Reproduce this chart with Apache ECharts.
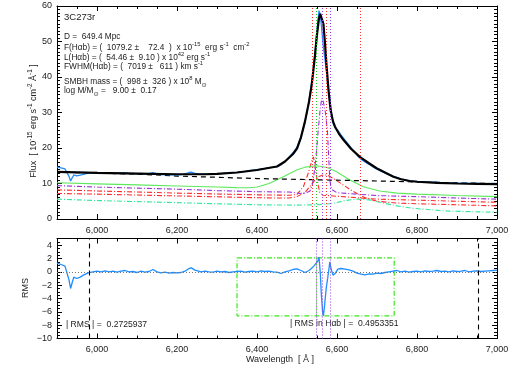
<!DOCTYPE html>
<html><head><meta charset="utf-8">
<script src="https://cdn.jsdelivr.net/npm/echarts@6/dist/echarts.min.js"></script>
<style>html,body{margin:0;padding:0;background:#fff}#c{width:520px;height:368px}</style>
</head><body><div id="c"></div>
<script>
// ---------- data ----------
const xMajorTicks = [6000, 6200, 6400, 6600, 6800, 7000];

// observed spectrum and residuals (same wavelength grid)
const waveObs = [5900,5910,5920,5925,5930,5934,5938,5942,5949,5958,5966,5978,5990,
  6000,6010,6020,6030,6040,6050,6060,6070,6080,6090,
  6100,6110,6120,6130,6140,6150,6160,6170,6180,6190,
  6200,6210,6220,6230,6236,6245,6260,6270,6280,6290,
  6300,6310,6320,6330,6340,6350,6360,6370,6380,6390,
  6400,6410,6420,6430,6440,6450,6460,6470,6480,6490,
  6500,6510,6520,6530,6538,6544,6548,6552,6555,6558,6561,6564,6566,6569,6573,6577,6580,6582,6585,6590,6596,
  6602,6610,6620,6630,6640,6650,6660,6670,6680,6690,
  6700,6710,6720,6730,6740,6750,6760,6770,6780,6790,
  6800,6810,6820,6830,6840,6850,6860,6870,6880,6890,
  6900,6910,6920,6930,6940,6950,6960,6970,6980,6990,7000];
const obsFlux = [14.6,14.4,14.1,13.95,12.0,10.7,11.6,12.4,12.15,12.35,12.6,12.9,13.03,
  13.1,12.98,13.09,12.91,12.98,12.85,12.98,13.06,12.84,12.87,
  12.7,12.88,12.71,12.79,13.07,12.7,12.53,12.61,12.44,12.52,
  12.45,12.5,12.7,13.1,13.2,12.85,12.6,12.7,12.65,12.65,
  12.8,12.78,12.91,12.87,13.06,13.15,13.34,13.33,13.59,13.78,
  13.8,14.15,14.25,14.5,14.6,14.75,15.25,16.2,17.4,18.65,
  20.25,23.2,27.4,33.2,39.6,46.0,50.8,55.4,58.7,57.6,54.5,50.7,48.4,45.9,42.1,38.0,35.4,34.3,30.7,27.0,25.6,
  25.0,23.7,22.2,20.8,19.4,18.0,16.85,16.05,15.4,14.65,
  14.04,13.45,13.0,12.5,12.05,11.75,11.2,11.07,10.7,10.65,
  10.6,10.44,10.53,10.37,10.36,10.4,10.21,10.22,10.08,10.19,
  10.05,10.08,10.16,9.94,10.02,10.05,9.93,9.96,9.99,10.02,10.05];
const rmsValues = [1.3,1.1,0.85,0.7,-1.2,-2.5,-1.6,-0.8,-1.0,-0.8,-0.5,-0.15,0.0,
  0.1,0.0,0.15,0.0,0.1,-0.05,0.1,0.2,0.0,0.05,
  -0.1,0.1,-0.05,0.05,0.35,0.0,-0.15,-0.05,-0.2,-0.1,
  -0.15,-0.1,0.1,0.5,0.6,0.25,0.0,0.1,0.0,-0.05,
  0.1,0.0,0.05,-0.1,0.0,0.05,0.1,-0.05,0.05,0.1,
  0.0,0.15,0.05,0.1,0.0,-0.05,-0.25,0.0,0.15,0.35,
  0.45,0.2,-0.1,0.2,0.6,1.0,1.2,1.6,2.2,0.0,-3.5,-6.0,-6.6,-5.0,-2.5,-0.8,0.5,1.5,0.5,-0.5,-0.2,
  0.4,0.5,0.4,0.3,0.1,-0.2,-0.35,-0.45,-0.3,-0.35,
  -0.2,-0.25,-0.1,0.0,0.1,0.2,0.0,0.1,-0.05,0.05,
  0.1,0.0,0.15,0.05,0.1,0.2,0.05,0.1,0.0,0.15,
  0.05,0.1,0.2,0.0,0.1,0.15,0.05,0.1,0.15,0.2,0.25];

// fitted model (black)
const waveModel = [5900,6000,6100,6200,6270,6300,6350,6400,6450,6470,6490,6500,6510,6520,6530,6537,6545,6550,6555,6558,6560,6563,6566,6570,6574,6579,6584,6590,6595,6605,6616,6635,6657,6680,6699,6720,6741,6760,6782,6800,6850,6900,6950,7000];
const modelFlux = [13.3,13.0,12.8,12.6,12.6,12.7,13.1,13.8,14.8,16.2,18.3,19.8,23.0,27.5,33,38,46,52,56.5,57.8,58.3,57.5,55,49.5,43,36,30.7,27.5,26,24,22.3,19.8,17.5,15.7,14.3,13.1,11.9,11.2,10.7,10.5,10.2,10.0,9.9,9.8];

// continuum (black dashed)
const waveCont = [5900, 6100, 6200, 6400, 6700, 6800, 7000];
const contFlux = [13.2, 12.65, 12.1, 11.4, 10.7, 10.45, 9.95];

// components
const waveGreen = [5900,6000,6100,6200,6300,6350,6380,6400,6430,6466,6499,6520,6549,6575,6599,6632,6666,6707,6750,6800,6900,7000];
const greenFlux = [10.2,9.9,9.6,9.3,9.0,8.85,8.8,9.0,10.0,11.9,13.8,14.6,15.0,14.5,13.3,11.0,9.1,7.9,7.3,7.0,6.6,6.3];

const wavePurple = [5900,6000,6100,6200,6300,6400,6480,6507,6520,6532,6538,6543,6548,6553,6558,6562,6566,6571,6576,6579,6582,6586,6600,6700,6800,6900,7000];
const purpleFlux = [9.4,9.0,8.7,8.4,8.0,7.7,7.6,7.2,7.3,7.8,9.5,13,18,25,31,34,33,30,25,18,11,8.4,7.4,6.6,6.3,5.9,5.6];

const waveRedA = [5900,6000,6100,6200,6300,6400,6480,6500,6516,6528,6536,6541,6545,6549,6553,6557,6565,6600,6700,6800,6900,7000];
const redAFlux = [8.2,7.9,7.6,7.3,7.05,6.8,6.7,6.9,9.1,12.9,16,17.5,15,11.9,9.5,7.5,6.7,6.4,5.6,5.3,5.0,4.7];

const waveRedB = [5900,6000,6100,6200,6300,6400,6450,6480,6500,6520,6535,6545,6555,6565,6575,6590,6610,6630,6650,6670,6700,6750,6800,6900,7000];
const redBFlux = [7.2,7.0,6.75,6.5,6.25,6.0,5.9,5.9,6.3,7.5,9.5,11.0,12.0,12.4,12.4,11.5,10.0,8.5,7.2,6.0,5.0,4.5,4.3,4.0,3.7];

const waveCyan = [5900,6000,6100,6200,6300,6400,6500,6550,6590,6620,6650,6680,6707,6750,6791,6874,7000];
const cyanFlux = [5.6,5.2,4.9,4.6,4.3,4.0,3.9,4.0,4.4,5.2,5.6,5.4,4.7,3.7,3.0,2.25,1.9];

// vertical marker lines
const topRedLines = [6539, 6572, 6658];
const topGreenLines = [6549];
const topPurpleLines = [6562.5, 6584];
const rmsPurpleLines = [6547.5, 6563, 6584];
const rmsBlackLines = [5980, 6953];
const rmsGreenLine = [6549];
const boxWave = [6350, 6743];
const boxLevels = [-6.6, 2.1];

// ---------- chart ----------
const FONT = '"Liberation Sans", "DejaVu Sans", sans-serif';
const TXT = '#222';
const pairs = (xs, ys) => xs.map((x, i) => [x, ys[i]]);

function xAx(grid, pos, major, labels) {
  if (major) return {type:'value', gridIndex:grid, position:pos, min:5900, max:7000,
    axisLine:{show:true, onZero:false, lineStyle:{color:'#000', width:1}},
    axisTick:{show:true, inside:true, length:5, customValues:xMajorTicks, lineStyle:{color:'#000'}},
    axisLabel:{show:labels, customValues:xMajorTicks, fontSize:9, color:TXT, margin:7, fontFamily:FONT},
    splitLine:{show:false}};
  return {type:'value', gridIndex:grid, position:pos, min:5900, max:7000, interval:50,
    axisLine:{show:false, onZero:false}, axisTick:{show:true, inside:true, length:3, lineStyle:{color:'#000'}},
    axisLabel:{show:false}, splitLine:{show:false}};
}
function yAx(grid, pos, labels, min, max, interval, minor) {
  return {type:'value', gridIndex:grid, position:pos, min, max, interval,
    axisLine:{show:true, onZero:false, lineStyle:{color:'#000', width:1}},
    axisTick:{show:true, inside:true, length:5, lineStyle:{color:'#000'}},
    minorTick:{show:true, splitNumber:minor, length:3, lineStyle:{color:'#000'}},
    axisLabel:{show:labels, fontSize:9, color:TXT, margin:5, fontFamily:FONT,
      formatter: v => (v > max - 1e-9 && max === 5) ? '' : String(v).replace('-', '\u2212')},
    splitLine:{show:false}};
}
const vMark = (vals, color, type, width) => vals.map(v => ({xAxis:v, lineStyle:{color, type, width:width || 1}}));
const markLineBase = data => ({silent:true, symbol:['none','none'], label:{show:false}, animation:false, data});
const dashDot = [5, 2, 1, 2];

function lineSeries(xs, ys, color, width, type, xi, yi, extra) {
  return Object.assign({type:'line', xAxisIndex:xi, yAxisIndex:yi, data:pairs(xs, ys), showSymbol:false, symbol:'none',
    silent:true, animation:false, lineStyle:{color, width, type}}, extra || {});
}

const rich = (fs) => ({
  n:{fontSize:fs, fontFamily:FONT, fill:TXT, lineHeight:fs+4},
  s:{fontSize:fs*0.7, fontFamily:FONT, fill:TXT, lineHeight:fs*0.7, verticalAlign:'top'},
  b:{fontSize:fs*0.75, fontFamily:FONT, fill:TXT, lineHeight:fs*0.75, verticalAlign:'bottom'}
});
function txt(x, y, text, fs, extra) {
  return Object.assign({type:'text', x, y, silent:true, style:{text, rich:rich(fs), fill:TXT, font:fs+'px '+FONT, verticalAlign:'middle', align:'left'}}, extra || {});
}

const AF = 8.3;
const option = {
  animation:false,
  backgroundColor:'#fff',
  grid:[{left:57, top:6, width:440, height:213}, {left:57, top:238.5, width:440, height:100}],
  xAxis:[xAx(0,'bottom',true,true), xAx(0,'top',true,false), xAx(0,'bottom',false,false), xAx(0,'top',false,false),
         xAx(1,'bottom',true,true), xAx(1,'top',true,false), xAx(1,'bottom',false,false), xAx(1,'top',false,false)],
  yAxis:[yAx(0,'left',true,0,60,10,10), yAx(0,'right',false,0,60,10,10),
         yAx(1,'left',true,-10,5,2,4), yAx(1,'right',false,-10,5,2,4)],
  series:[
    lineSeries(waveCyan, cyanFlux, '#2ee89c', 1.1, dashDot, 0, 0),
    lineSeries(waveRedB, redBFlux, '#ff2a2a', 1.1, dashDot, 0, 0),
    lineSeries(waveRedA, redAFlux, '#ff2a2a', 1.1, dashDot, 0, 0,
      {markLine:markLineBase(vMark(topRedLines, '#ff3030', [1,2]))}),
    lineSeries(wavePurple, purpleFlux, '#9a30d8', 1.1, dashDot, 0, 0,
      {markLine:markLineBase(vMark(topPurpleLines, '#9a40e0', [1,2]))}),
    lineSeries(waveGreen, greenFlux, '#5ee85e', 1.1, 'solid', 0, 0,
      {markLine:markLineBase(vMark(topGreenLines, '#22cc22', [1,2]))}),
    lineSeries(waveCont, contFlux, '#000', 1.2, [5,4], 0, 0),
    lineSeries(waveObs, obsFlux, '#1f8cff', 1.3, 'solid', 0, 0),
    lineSeries(waveModel, modelFlux, '#000', 2.2, 'solid', 0, 0),
    // residual panel
    lineSeries([boxWave[0], boxWave[1], boxWave[1], boxWave[0], boxWave[0]],
               [boxLevels[1], boxLevels[1], boxLevels[0], boxLevels[0], boxLevels[1]], '#3be81e', 1.2, dashDot, 4, 2,
      {markLine:markLineBase(vMark(rmsBlackLines, '#000', [5,4], 1.1).concat(vMark(rmsPurpleLines, '#9a40e0', [1,2])))}),
    lineSeries([rmsGreenLine[0], rmsGreenLine[0]], [boxLevels[0], boxLevels[1]], '#22cc22', 1, [1,2], 4, 2),
    lineSeries(waveObs, rmsValues, '#1f8cff', 1.3, 'solid', 4, 2,
      {markLine:markLineBase([{yAxis:0, lineStyle:{color:'#777', type:[1,2], width:1}}])})
  ],
  graphic:[
    txt(64, 17, '{n|3C273r}', 9.5),
    txt(64, 37, '{n|D =  649.4 Mpc}', AF),
    txt(64, 48, '{n|F(H\u03b1b) = (  1079.2 \u00b1    72.4  )  x 10}{s|-15}{n|  erg s}{s|-1}{n|  cm}{s|-2}', AF),
    txt(64, 58, '{n|L(H\u03b1b) = (  54.46 \u00b1  9.10 ) x 10}{s|42}{n| erg s}{s|-1}', AF),
    txt(64, 67, '{n|FWHM(H\u03b1b) = (  7019 \u00b1   611 ) km s}{s|-1}', AF),
    txt(64, 82, '{n|SMBH mass = (  998 \u00b1  326 ) x 10}{s|8}{n| M}{b|\u2299}', AF),
    txt(64, 91, '{n|log M/M}{b|\u2299}{n| =   9.00 \u00b1  0.17}', AF),
    txt(66, 325, '{n|| RMS | =  0.2725937}', 8.6),
    txt(290, 324, '{n|| RMS in H\u03b1b | =  0.4953351}', 8.6),
    Object.assign(txt(34, 121, '{n|Flux  [ 10}{s|-15}{n| erg s}{s|-1}{n| cm}{s|-2}{n| \u00c5}{s|-1}{n| ]}', 9), {rotation:Math.PI/2}),
    Object.assign(txt(26, 288, '{n|RMS}', 9), {rotation:Math.PI/2}),
    txt(280, 360, '{n|Wavelength  [ \u00c5 ]}', 9)
  ]
};
option.graphic[9].style.align = 'center';
option.graphic[10].style.align = 'center';
option.graphic[11].style.align = 'center';

const chart = echarts.init(document.getElementById('c'), null, {renderer:'canvas'});
chart.setOption(option);
</script>
</body></html>
